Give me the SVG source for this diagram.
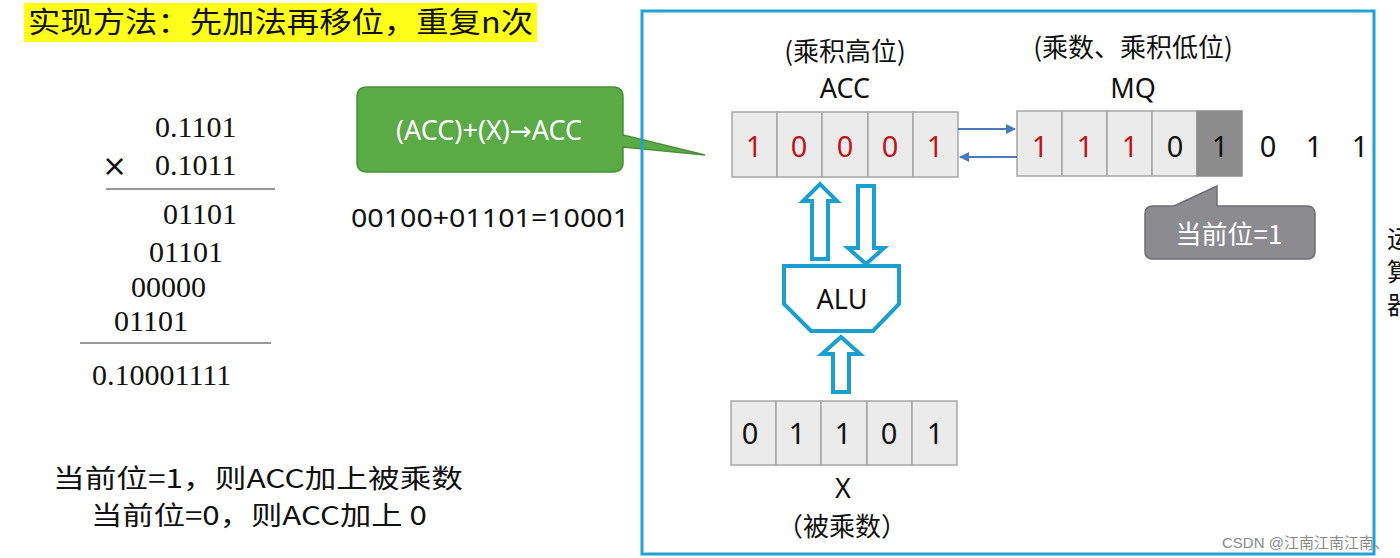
<svg xmlns="http://www.w3.org/2000/svg" width="1400" height="558" viewBox="0 0 1400 558">
<style>
.cjk{font-family:"Noto Sans CJK SC","Noto Sans",sans-serif;fill:#111}
.sans{font-family:"Noto Sans","Noto Sans CJK SC",sans-serif;fill:#111}
.ser{font-family:"Liberation Serif",serif;font-size:30px;fill:#111}
.cell{fill:#ebebeb;stroke:#a6a6a6;stroke-width:1.5}
.dig{font-family:"Noto Sans",sans-serif;font-size:29px;text-anchor:middle}
.red{fill:#c0141c}
.blk{fill:#111}
.hollow{fill:#fff;stroke:#1a9fd0;stroke-width:4;stroke-linejoin:miter}
.thin{stroke:#4a7ab8;stroke-width:2;fill:none}
</style>
<defs>
<marker id="ah" viewBox="0 0 10 10" refX="9" refY="5" markerWidth="5" markerHeight="5" orient="auto"><path d="M0,0 L10,5 L0,10 z" fill="#4a7ab8"/></marker>
</defs>
<rect width="1400" height="558" fill="#fff"/>

<g id="title">
<rect x="24" y="3" width="513" height="39" fill="#ffff1a"/>
<text class="cjk" x="28" y="33" font-size="29" font-weight="normal" textLength="505" lengthAdjust="spacingAndGlyphs">实现方法：先加法再移位，重复n次</text>
</g>

<g id="calc">
<text class="ser" x="155" y="137">0.1101</text>
<text x="102" y="176" font-family="DejaVu Sans,sans-serif" font-size="30" fill="#111">×</text>
<text class="ser" x="155" y="175">0.1011</text>
<line x1="106" y1="189" x2="275" y2="189" stroke="#777" stroke-width="1.5"/>
<text class="ser" x="163" y="224">01101</text>
<text class="ser" x="149" y="262">01101</text>
<text class="ser" x="131" y="297">00000</text>
<text class="ser" x="114" y="331">01101</text>
<line x1="80" y1="343" x2="271" y2="343" stroke="#777" stroke-width="1.5"/>
<text class="ser" x="92" y="385">0.10001111</text>
</g>

<g id="green-callout">
<path d="M367,87 H613 Q623,87 623,97 V135 L705,155 L623,147 V162 Q623,172 613,172 H367 Q357,172 357,162 V97 Q357,87 367,87 Z" fill="#5aaa45" stroke="#4a8f38" stroke-width="1.5"/>
<text x="489" y="140" font-family="Noto Sans,sans-serif" font-size="27" fill="#fff" text-anchor="middle">(ACC)+(X)<tspan font-family="DejaVu Sans,sans-serif" font-size="26">→</tspan>ACC</text>
</g>

<g id="sum">
<text class="sans" x="351" y="227" font-size="25" textLength="278" lengthAdjust="spacingAndGlyphs">00100+01101=10001</text>
</g>

<g id="notes">
<text class="cjk" x="53" y="488" font-size="26" textLength="410" lengthAdjust="spacingAndGlyphs">当前位=1，则ACC加上被乘数</text>
<text class="cjk" x="91" y="525" font-size="26" textLength="336" lengthAdjust="spacingAndGlyphs">当前位=0，则ACC加上 0</text>
</g>

<g id="frame">
<rect x="642" y="11" width="732" height="543" fill="none" stroke="#1ea3d2" stroke-width="3"/>
</g>

<g id="acc-labels">
<text class="cjk" x="845" y="61" font-size="26" text-anchor="middle">(乘积高位)</text>
<text class="sans" x="845" y="98" font-size="27" text-anchor="middle">ACC</text>
</g>
<g id="mq-labels">
<text class="cjk" x="1133" y="57" font-size="26" text-anchor="middle">(乘数、乘积低位)</text>
<text class="sans" x="1133" y="98" font-size="27" text-anchor="middle">MQ</text>
</g>

<g id="acc">
<rect class="cell" x="732" y="112" width="45" height="65"/>
<rect class="cell" x="777" y="112" width="45" height="65"/>
<rect class="cell" x="822" y="112" width="46" height="65"/>
<rect class="cell" x="868" y="112" width="45" height="65"/>
<rect class="cell" x="913" y="112" width="45" height="65"/>
<text class="dig red" x="754" y="157">1</text>
<text class="dig red" x="799" y="157">0</text>
<text class="dig red" x="845" y="157">0</text>
<text class="dig red" x="890" y="157">0</text>
<text class="dig red" x="935" y="157">1</text>
</g>

<g id="mq">
<rect class="cell" x="1017" y="111" width="45" height="65"/>
<rect class="cell" x="1062" y="111" width="45" height="65"/>
<rect class="cell" x="1107" y="111" width="45" height="65"/>
<rect class="cell" x="1152" y="111" width="45" height="65"/>
<rect x="1197" y="111" width="45" height="65" fill="#8c8c8c" stroke="#8c8c8c" stroke-width="1.5"/>
<text class="dig red" x="1040" y="157">1</text>
<text class="dig red" x="1085" y="157">1</text>
<text class="dig red" x="1130" y="157">1</text>
<text class="dig blk" x="1175" y="157">0</text>
<text class="dig blk" x="1220" y="157">1</text>
<text class="dig blk" x="1268" y="157">0</text>
<text class="dig blk" x="1314" y="157">1</text>
<text class="dig blk" x="1360" y="157">1</text>
</g>

<g id="gray-callout">
<path d="M1153,206 H1174 L1217,186 V206 H1307 Q1315,206 1315,214 V251 Q1315,259 1307,259 H1153 Q1145,259 1145,251 V214 Q1145,206 1153,206 Z" fill="#8b8b90" stroke="#6d6d74" stroke-width="1.5"/>
<text class="cjk" x="1229" y="244" font-size="26" text-anchor="middle" style="fill:#fff">当前位=1</text>
</g>

<g id="alu">
<path class="hollow" d="M784,266 H899 V304 L873,331 H811 L784,304 Z"/>
<text class="sans" x="842" y="309" font-size="27" text-anchor="middle">ALU</text>
</g>

<g id="x-reg">
<rect class="cell" x="731" y="401" width="45" height="64"/>
<rect class="cell" x="776" y="401" width="45" height="64"/>
<rect class="cell" x="821" y="401" width="46" height="64"/>
<rect class="cell" x="867" y="401" width="45" height="64"/>
<rect class="cell" x="912" y="401" width="45" height="64"/>
<text class="dig blk" x="750" y="444">0</text>
<text class="dig blk" x="797" y="444">1</text>
<text class="dig blk" x="843" y="444">1</text>
<text class="dig blk" x="889" y="444">0</text>
<text class="dig blk" x="935" y="444">1</text>
<text class="sans" x="843" y="498" font-size="27" text-anchor="middle">X</text>
<text class="cjk" x="842" y="536" font-size="26" text-anchor="middle">（被乘数）</text>
</g>

<g id="connectors">
<line class="thin" x1="958" y1="129" x2="1015" y2="129" marker-end="url(#ah)"/>
<line class="thin" x1="1017" y1="157" x2="960" y2="157" marker-end="url(#ah)"/>
<path class="hollow" d="M812,259 V201 H803 L820,184 L837,201 H828 V259 Z"/>
<path class="hollow" d="M858,186 H874 V248 H884 L866,264 L848,248 H858 Z"/>
<path class="hollow" d="M833,392 V354 H822 L841,337 L860,354 H849 V392 Z"/>
</g>

<g id="side-text">
<text class="cjk" x="1387" y="248" font-size="25">运</text>
<text class="cjk" x="1387" y="281" font-size="25">算</text>
<text class="cjk" x="1387" y="314" font-size="25">器</text>
</g>

<g id="watermark">
<text x="1222" y="548" font-family="Liberation Sans,Noto Sans CJK SC,sans-serif" font-size="15" fill="#8a8a8a">CSDN @江南江南江南、</text>
</g>
</svg>
